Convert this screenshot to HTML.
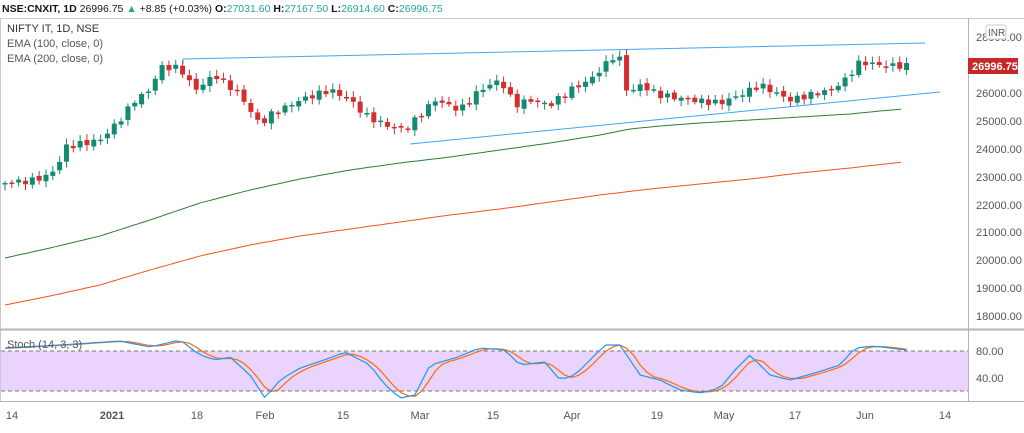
<!DOCTYPE html>
<html><head><meta charset="utf-8"><style>
body{margin:0;background:#fff;font-family:"Liberation Sans",sans-serif;}
svg text{font-family:"Liberation Sans",sans-serif;}
</style></head><body>
<svg id="s" width="1024" height="428" xmlns="http://www.w3.org/2000/svg">
<rect width="1024" height="428" fill="#fff"/>
<text x="2" y="12" font-size="10.5" fill="#131722"><tspan font-weight="bold">NSE:CNXIT, 1D</tspan> 26996.75 <tspan fill="#26a69a">▲</tspan> +8.85 (+0.03%) <tspan font-weight="bold">O:</tspan><tspan fill="#26a69a">27031.60</tspan> <tspan font-weight="bold">H:</tspan><tspan fill="#26a69a">27167.50</tspan> <tspan font-weight="bold">L:</tspan><tspan fill="#26a69a">26914.60</tspan> <tspan font-weight="bold">C:</tspan><tspan fill="#26a69a">26996.75</tspan></text>
<line x1="0" y1="18.5" x2="1024" y2="18.5" stroke="#c8cad0"/>
<line x1="0.5" y1="18" x2="0.5" y2="402" stroke="#c8cad0"/>
<rect x="1" y="330" width="967" height="71" fill="#fff"/>
<rect x="1" y="351" width="967" height="40" fill="#ead3fc"/>
<line x1="1" y1="351" x2="968" y2="351" stroke="#777" stroke-dasharray="4,3"/>
<line x1="1" y1="391" x2="968" y2="391" stroke="#777" stroke-dasharray="4,3"/>
<line x1="0" y1="329.5" x2="1024" y2="329.5" stroke="#b2b5be" stroke-width="2"/>
<line x1="968.5" y1="18" x2="968.5" y2="402" stroke="#b2b5be"/>
<line x1="0" y1="401.5" x2="1024" y2="401.5" stroke="#b2b5be"/>
<g id="g"></g>
<text x="7" y="32" font-size="11" fill="#333">NIFTY IT, 1D, NSE</text>
<text x="7" y="47" font-size="11" fill="#555">EMA (100, close, 0)</text>
<text x="7" y="62" font-size="11" fill="#555">EMA (200, close, 0)</text>
<text x="7" y="348" font-size="11" fill="#555">Stoch (14, 3, 3)</text>
<g font-size="11" fill="#555">
<text x="976" y="41">28000.00</text>
<text x="976" y="97">26000.00</text>
<text x="976" y="125">25000.00</text>
<text x="976" y="153">24000.00</text>
<text x="976" y="181">23000.00</text>
<text x="976" y="209">22000.00</text>
<text x="976" y="236">21000.00</text>
<text x="976" y="264">20000.00</text>
<text x="976" y="292">19000.00</text>
<text x="976" y="320">18000.00</text>
<text x="976" y="355">80.00</text>
<text x="976" y="382">40.00</text>
</g>
<rect x="986" y="25" width="20" height="14" rx="2" fill="#fff" stroke="#ccc"/>
<text x="988" y="36" font-size="10" fill="#555">INR</text>
<rect x="968" y="58" width="50" height="16" fill="#c62828"/>
<text x="972" y="70" font-size="11" font-weight="bold" fill="#fff">26996.75</text>
<g font-size="11" fill="#555" text-anchor="middle">
<text x="12" y="419">14</text><text x="112" y="419" font-weight="bold">2021</text><text x="197" y="419">18</text>
<text x="265" y="419">Feb</text><text x="343" y="419">15</text><text x="420" y="419">Mar</text>
<text x="493" y="419">15</text><text x="572" y="419">Apr</text><text x="657" y="419">19</text>
<text x="724" y="419">May</text><text x="795" y="419">17</text><text x="865" y="419">Jun</text><text x="945" y="419">14</text>
</g>
</svg>
<script>
(function(){
var g=document.getElementById('g'),NS='http://www.w3.org/2000/svg';
function el(t,a){var e=document.createElementNS(NS,t);for(var k in a)e.setAttribute(k,a[k]);g.appendChild(e);return e;}
function interp(pts,x){for(var i=0;i<pts.length-1;i++){if(x<=pts[i+1][0]){var a=pts[i],b=pts[i+1];return a[1]+(b[1]-a[1])*(x-a[0])/(b[0]-a[0]);}}return pts[pts.length-1][1];}
function path(pts,col){var d='';for(var x=pts[0][0];x<=pts[pts.length-1][0];x+=4){d+=(d?'L':'M')+x+' '+interp(pts,x).toFixed(1);}el('path',{d:d,fill:'none',stroke:col,'stroke-width':1});}
path([[5,258],[50,248],[100,236],[150,220],[200,203],[250,190],[300,179],[350,170],[400,163],[450,157],[500,150],[550,143],[600,135],[630,129],[660,126],[700,123],[750,120],[800,117],[850,114],[880,111],[903,109]],'#2e7d32');
path([[5,305],[50,296],[100,285],[150,270],[200,256],[250,245],[300,236],[350,229],[400,222],[450,215],[500,209],[550,202],[600,195],[650,189],[700,184],[750,179],[800,173],[850,168],[903,162]],'#f4511e');
el('line',{x1:183,y1:59,x2:925,y2:43,stroke:'#42a5f5'});
el('line',{x1:183,y1:59,x2:183,y2:64,stroke:'#42a5f5'});
el('line',{x1:410,y1:144,x2:940,y2:92,stroke:'#42a5f5'});
var cp=[[5,183],[30,181],[50,175],[58,165],[65,147],[100,140],[120,120],[135,100],[150,90],[160,67],[180,68],[188,80],[195,90],[215,75],[240,95],[260,125],[270,115],[300,100],[330,90],[350,100],[365,115],[385,125],[405,130],[420,115],[435,100],[460,110],[480,90],[500,80],[515,105],[530,100],[550,105],[570,90],[590,80],[610,60],[618,52],[628,95],[640,85],[660,95],[690,100],[720,103],[740,95],[760,85],[790,100],[810,95],[830,90],[845,80],[860,62],[880,65],[903,66]];
var prev=183,N=133;
for(var i=0;i<N;i++){var x=5+i*6.83;var c=interp(cp,x)+Math.sin(i*2.7)*3;var o=prev+Math.cos(i*1.9)*1.5;
var up=c<o;var col=up?'#138a72':'#d32f2f';var t=Math.min(o,c),b=Math.max(o,c);if(b-t<1.5)b=t+1.5;
el('line',{x1:x,y1:t-2-Math.abs(Math.sin(i*3.3))*4,x2:x,y2:b+2+Math.abs(Math.cos(i*2.1))*4,stroke:col});
el('rect',{x:x-2.5,y:t,width:5,height:b-t,fill:col});prev=c;}
var kp=[[5,348],[60,345],[120,341],[150,347],[180,340],[200,355],[215,360],[230,357],[250,375],[265,398],[280,380],[300,368],[330,358],[345,352],[370,365],[385,385],[400,398],[415,395],[430,365],[455,358],[480,348],[505,350],[520,365],[545,362],[560,380],[575,375],[590,360],[605,345],[620,345],[640,375],[660,380],[680,390],[700,393],[720,388],[735,370],[750,355],[770,375],[790,380],[815,373],[840,365],[855,348],[875,346],[905,350]];
var dk='',dd='';for(var i=0;i<N;i++){var x=5+i*6.83;var k=interp(kp,x);var d=(interp(kp,x)+interp(kp,x-6.83)+interp(kp,x-13.66))/3;
dk+=(i?'L':'M')+x.toFixed(1)+' '+k.toFixed(1);dd+=(i?'L':'M')+x.toFixed(1)+' '+d.toFixed(1);}
el('path',{d:dd,fill:'none',stroke:'#ff6d00','stroke-width':1.2});
el('path',{d:dk,fill:'none',stroke:'#2196f3','stroke-width':1.2});
})();
</script>
</body></html>
